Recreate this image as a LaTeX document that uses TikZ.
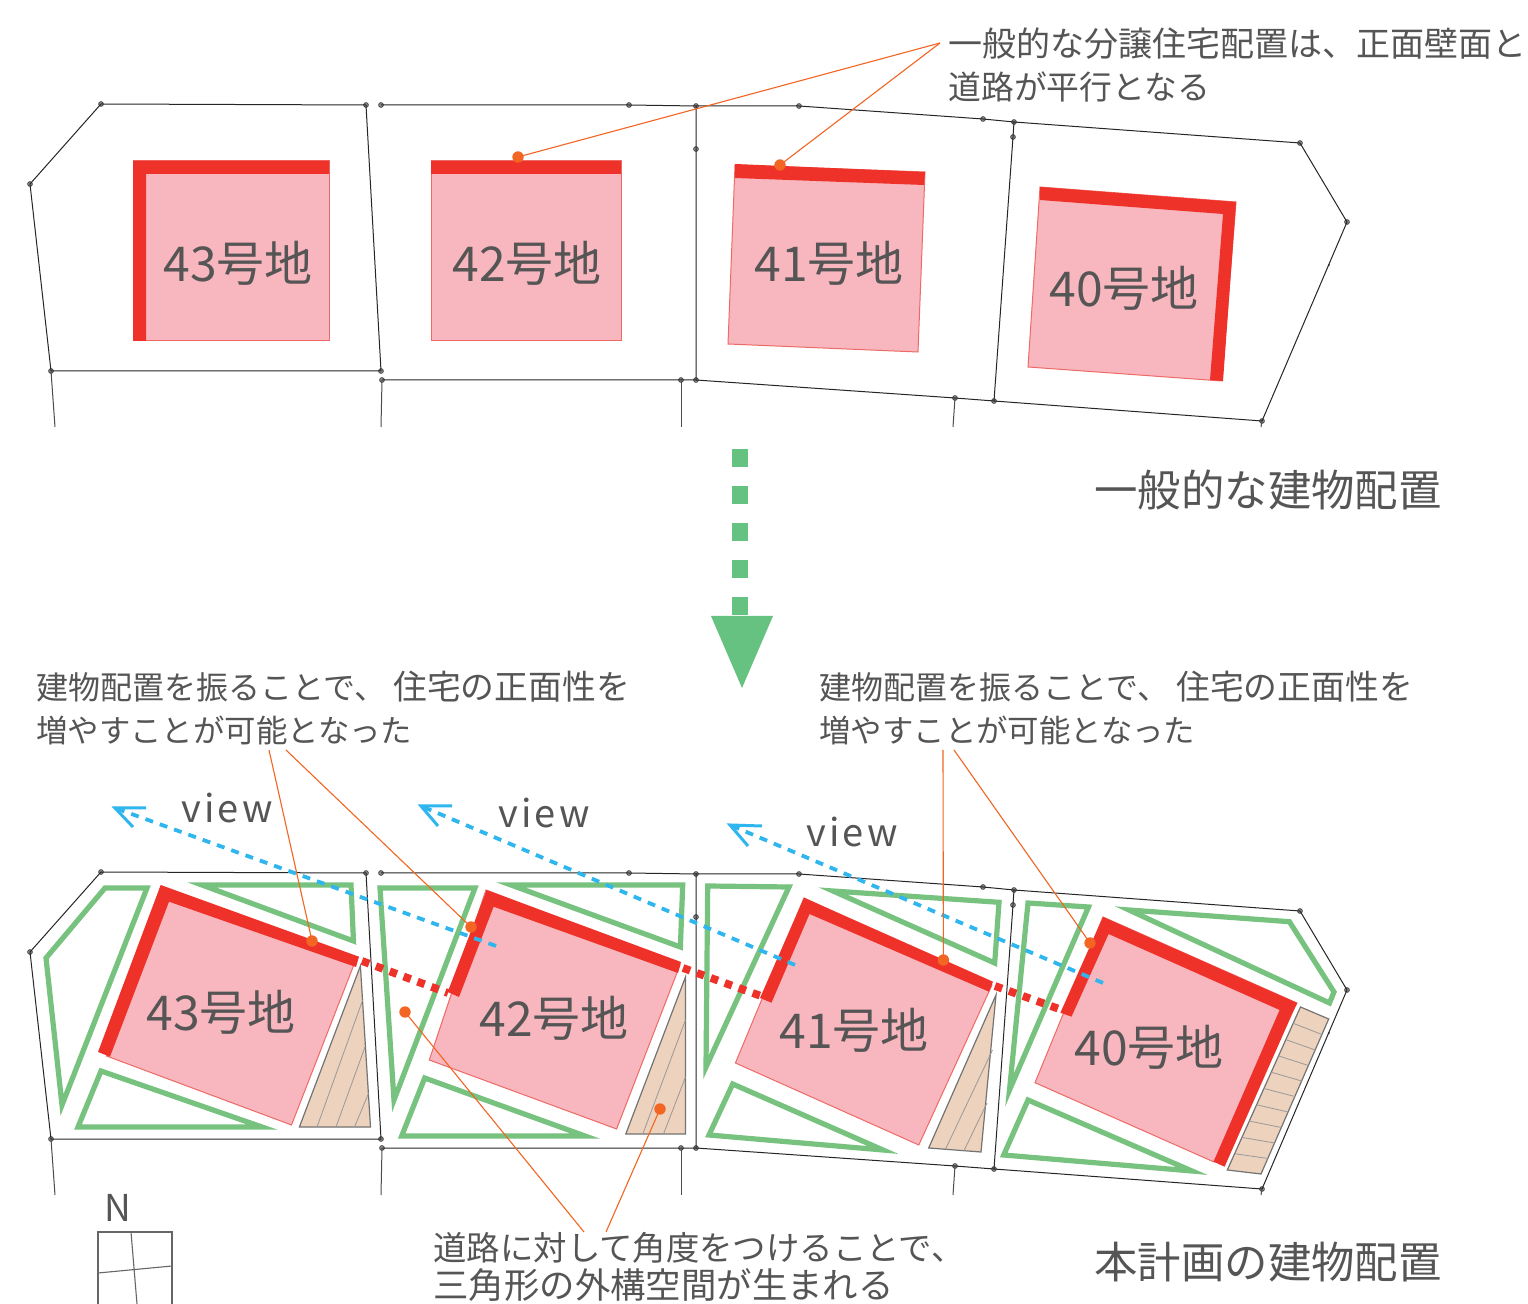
\documentclass[tikz,border=0pt]{standalone}
\usepackage{fontspec}
\usetikzlibrary{calc}
\setmainfont{Noto Sans CJK JP}
\newfontfamily\viewfont[LetterSpace=8]{Noto Sans CJK JP}
\definecolor{bldred}{HTML}{EE3229}
\definecolor{bldpink}{HTML}{F8B6BE}
\definecolor{bldedge}{HTML}{EE6A66}
\definecolor{hedge}{HTML}{77C27F}
\definecolor{wood}{HTML}{EDD2BD}
\definecolor{sky}{HTML}{2FB6EE}
\definecolor{lead}{HTML}{F26522}
\definecolor{arrowgreen}{HTML}{66C280}
\definecolor{txt}{HTML}{555555}
\newcommand{\fsz}[1]{\fontsize{#1}{#1}\selectfont}
\tikzset{
  vx/.style={circle,inner sep=0pt,minimum size=2.4pt,draw=black!75,line width=.35pt,fill=black!45},
  vxtiny/.style={circle,inner sep=0pt,minimum size=1.2pt,fill=black!60},
  bound/.style={line width=.5pt,draw=black!85},
  stub/.style={line width=.5pt,draw=black!70},
  pinkbox/.style={fill=bldpink,draw=bldedge,line width=.5pt},
  redband/.style={fill=bldred,draw=none},
  hedgeline/.style={draw=hedge,line width=2.6pt,miter limit=12,line join=miter},
  woodbox/.style={fill=wood,draw=black!55,line width=.6pt},
  hatch/.style={draw=black!40,line width=.4pt},
  reddash/.style={draw=bldred,line width=3.9pt,dash pattern=on 3.8pt off 3.6pt},
  viewline/.style={draw=sky,line width=1.9pt,dash pattern=on 4pt off 3.6pt},
  viewhead/.style={draw=sky,line width=1.5pt,line join=miter},
  leader/.style={draw=lead,line width=.55pt},
  dot/.style={circle,inner sep=0pt,minimum size=5.7pt,fill=lead},
  lotlabel/.style={text=txt,inner sep=0pt,font=\fsz{24}},
  title/.style={text=txt,inner sep=0pt,anchor=west,font=\fsz{21.7}},
  note/.style={text=txt,inner sep=0pt,anchor=west,font=\fsz{16.4}},
  viewlabel/.style={text=txt,inner sep=0pt,font=\viewfont\fsz{19}},
}
\newcommand{\lotlines}[1]{%
  \node[vx] (#1a1) at (30,184) {};
  \node[vx] (#1a2) at (101,104) {};
  \node[vx] (#1a3) at (366,105) {};
  \node[vx] (#1a4) at (381,371) {};
  \node[vx] (#1a5) at (51,371) {};
  \coordinate (#1a6) at (55,427);
  \node[vx] (#1b1) at (381,105) {};
  \node[vx] (#1b2) at (629,105) {};
  \node[vx] (#1b3) at (696,106) {};
  \node[vx] (#1b4) at (696,380) {};
  \node[vx] (#1b5) at (681,380) {};
  \node[vx] (#1b6) at (382,380) {};
  \node[vx] (#1b7) at (696,149) {};
  \coordinate (#1b8) at (381,427);
  \coordinate (#1b9) at (681,427);
  \node[vx] (#1c1) at (799,106) {};
  \node[vx] (#1c2) at (983,119) {};
  \node[vx] (#1c3) at (1014,122) {};
  \node[vx] (#1c4) at (1013,137) {};
  \node[vx] (#1c5) at (994,401) {};
  \node[vx] (#1c6) at (955,398) {};
  \coordinate (#1c7) at (953,427);
  \node[vx] (#1d1) at (1300,143) {};
  \node[vx] (#1d2) at (1347,222) {};
  \node[vx] (#1d3) at (1262,421) {};
  \node[vxtiny] (#1d5) at (1329,265) {};
  \coordinate (#1d4) at (1261,427);
  \draw[bound] (#1a1.center) -- (#1a2.center) -- (#1a3.center) -- (#1a4.center) -- (#1a5.center) -- cycle;
  \draw[stub] (#1a5.center) -- (#1a6);
  \draw[bound] (#1b1.center) -- (#1b2.center) -- (#1b3.center) -- (#1b4.center) -- (#1b5.center) -- (#1b6.center);
  \draw[stub] (#1b6.center) -- (#1b8);
  \draw[stub] (#1b5.center) -- (#1b9);
  \draw[bound] (#1b3.center) -- (#1c1.center) -- (#1c2.center) -- (#1c3.center) -- (#1c4.center) -- (#1c5.center) -- (#1c6.center) -- (#1b4.center);
  \draw[stub] (#1c6.center) -- (#1c7);
  \draw[bound] (#1c3.center) -- (#1d1.center) -- (#1d2.center) -- (#1d3.center) -- (#1c5.center);
  \draw[stub] (#1d3.center) -- (#1d4);
}
\begin{document}
\begin{tikzpicture}[x=0.5pt,y=-0.5pt]
\useasboundingbox (0,0) rectangle (1528,1304);
\fill[white] (0,0) rectangle (1528,1304);

% ---------- upper plan
\lotlines{u}
\draw[pinkbox] (133,161) rectangle (329,341);
\fill[redband] (133,161) -- (329,161) -- (329,174) -- (146,174) -- (146,341) -- (133,341) -- cycle;
\draw[pinkbox] (431,161) rectangle (621,341);
\fill[redband] (431,161) rectangle (621,174);
\draw[pinkbox] (735,165) -- (925,172) -- (918,352) -- (728,344) -- cycle;
\fill[redband] (735,164) -- (925,172) -- (924,185) -- (735,178) -- cycle;
\draw[pinkbox] (1040,187) -- (1236,202) -- (1222,381) -- (1028,367) -- cycle;
\fill[redband] (1040,187) -- (1236,202) -- (1223,381) -- (1210,380) -- (1223,214) -- (1040,200) -- cycle;
\node[lotlabel] (u43) at (238,263) {43号地};
\node[lotlabel] (u42) at (527,263) {42号地};
\node[lotlabel] (u41) at (829,263) {41号地};
\node[lotlabel] (u40) at (1124,288) {40号地};

\node[note,font=\fsz{17}] (ntop1) at (948,44) {一般的な分譲住宅配置は、正面壁面と};
\node[note] (ntop2) at (948,87) {道路が平行となる};
\coordinate (ltop) at (940,43);
\node[dot] (d1) at (518,157) {};
\node[dot] (d2) at (780,165) {};
\draw[leader] (ltop) -- (d1.center);
\draw[leader] (ltop) -- (d2.center);

% ---------- green arrow
\coordinate (ga) at (740,449);
\coordinate (gb) at (740,616);
\coordinate (gl) at (711,616);
\coordinate (gr) at (773,616);
\coordinate (gt) at (742,688);
\draw[arrowgreen,line width=8pt,dash pattern=on 9pt off 9.5pt] (ga) -- (gb);
\fill[arrowgreen] (gl) -- (gr) -- (gt) -- cycle;

\node[title] (t1) at (1094,490) {一般的な建物配置};
\node[title] (t2) at (1094,1262) {本計画の建物配置};

% ---------- lower plan
\begin{scope}[shift={(0,768)}]
\lotlines{l}
\end{scope}

% green planting
\draw[hedgeline] (105,888) -- (147,888) -- (62,1105) -- (46,958) -- cycle;
\draw[hedgeline] (202,885) -- (351,885) -- (353.5,941) -- cycle;
\draw[hedgeline] (101,1071) -- (78,1127) -- (262,1127) -- cycle;
\draw[hedgeline] (380,888) -- (475,888) -- (394,1100) -- cycle;
\draw[hedgeline] (511,885) -- (682.7,885) -- (680.4,947) -- cycle;
\draw[hedgeline] (424.7,1078) -- (401.7,1136) -- (585,1136) -- cycle;
\draw[hedgeline] (707.7,886) -- (789,887) -- (706,1067) -- cycle;
\draw[hedgeline] (833,891) -- (999,902.3) -- (994.7,963) -- cycle;
\draw[hedgeline] (732.7,1084) -- (709,1135) -- (883,1150) -- cycle;
\draw[hedgeline] (1028,903) -- (1088.5,907) -- (1009.5,1090) -- cycle;
\draw[hedgeline] (1129,910) -- (1289.4,921.7) -- (1334,992) -- (1329.5,1003) -- cycle;
\draw[hedgeline] (1028,1100) -- (1003.7,1155) -- (1192,1171) -- cycle;

% timber decks
\draw[woodbox] (360.4,966) -- (299.4,1127) -- (370.5,1127) -- cycle;
\draw[hatch] (317,1127) -- (362.7,1000);
\draw[hatch] (336,1127) -- (365,1047);
\draw[hatch] (354.5,1127) -- (368.7,1093);
\draw[woodbox] (685.5,977) -- (625.8,1134) -- (685.5,1134) -- cycle;
\draw[hatch] (642.8,1134) -- (685.5,1020);
\draw[hatch] (663.5,1134) -- (685.5,1077);
\draw[woodbox] (996,995) -- (928.7,1148) -- (981,1152) -- cycle;
\draw[hatch] (945.6,1149) -- (992.5,1050);
\draw[hatch] (964,1150.7) -- (987,1103);
\draw[woodbox] (1300.5,1007) -- (1328.7,1019) -- (1261,1174) -- (1227.3,1170) -- cycle;
\foreach \t in {0.1,0.2,...,0.95}{
  \draw[hatch] ($(1300.5,1007)!\t!(1227.3,1170)$) -- ($(1328.7,1019)!\t!(1261,1174)$);
}

% buildings
\draw[pinkbox] (161,886) -- (355,962) -- (291.5,1125) -- (106.5,1056) -- cycle;
\fill[redband] (160.7,885) -- (359,956.7) -- (356,967) -- (350,965) -- (169,901.7) -- (110,1056.7) -- (98,1052) -- cycle;
\draw[pinkbox] (486,890) -- (680,965) -- (616.6,1129) -- (429.3,1060) -- cycle;
\fill[redband] (486.7,890) -- (681,962) -- (678,973) -- (493.6,906.7) -- (459,997) -- (447.7,992) -- cycle;
\draw[pinkbox] (804,898) -- (992,985) -- (918.8,1145) -- (735.4,1063) -- cycle;
\fill[redband] (804,897.7) -- (993,981.7) -- (989,991.7) -- (809.5,914) -- (771.5,1002.7) -- (760,998) -- cycle;
\draw[pinkbox] (1103,917) -- (1297,1003) -- (1214,1162) -- (1035,1082.7) -- cycle;
\fill[redband] (1103,917) -- (1297,1003) -- (1224.6,1166.7) -- (1213.5,1161.7) -- (1279.6,1010) -- (1108.6,934) -- (1071.5,1016.7) -- (1060.4,1012.7) -- cycle;

\coordinate (rd1a) at (362,961);
\coordinate (rd1b) at (448,993);
\coordinate (rd2a) at (683,968);
\coordinate (rd2b) at (761,996);
\coordinate (rd3a) at (995,986);
\coordinate (rd3b) at (1062,1010);
\draw[reddash] (rd1a) -- (rd1b);
\draw[reddash] (rd2a) -- (rd2b);
\draw[reddash] (rd3a) -- (rd3b);

\node[lotlabel] (l43) at (221,1012) {43号地};
\node[lotlabel] (l42) at (554,1018) {42号地};
\node[lotlabel] (l41) at (854,1030) {41号地};
\node[lotlabel] (l40) at (1149,1047) {40号地};

% view arrows
\coordinate (v1a) at (496,946);
\coordinate (v1b) at (115,808);
\coordinate (v1c) at (146,808);
\coordinate (v1d) at (133,827);
\coordinate (v2a) at (795,965);
\coordinate (v2b) at (421,806);
\coordinate (v2c) at (452,806);
\coordinate (v2d) at (438,826);
\coordinate (v3a) at (1103,983);
\coordinate (v3b) at (730,825);
\coordinate (v3c) at (762,826);
\coordinate (v3d) at (748,846);
\draw[viewline] (v1a) -- (v1b);
\draw[viewhead] (v1c) -- (v1b) -- (v1d);
\draw[viewline] (v2a) -- (v2b);
\draw[viewhead] (v2c) -- (v2b) -- (v2d);
\draw[viewline] (v3a) -- (v3b);
\draw[viewhead] (v3c) -- (v3b) -- (v3d);
\node[viewlabel] (vl1) at (227,808) {view};
\node[viewlabel] (vl2) at (544,813) {view};
\node[viewlabel] (vl3) at (852,832) {view};

% notes with leaders
\node[note] (n1a) at (36,687) {\fsz{16}建物配置を振ることで、 \fsz{16.9}住宅の正面性を};
\node[note,font=\fsz{15.7}] (n1b) at (36,730) {増やすことが可能となった};
\node[note] (n2a) at (819,687) {\fsz{16}建物配置を振ることで、 \fsz{16.9}住宅の正面性を};
\node[note,font=\fsz{15.7}] (n2b) at (819,730) {増やすことが可能となった};
\node[note,font=\fsz{16.7}] (n3a) at (433,1248) {道路に対して角度をつけることで、};
\node[note,font=\fsz{17.7}] (n3b) at (433,1285) {三角形の外構空間が生まれる};

\coordinate (la) at (269,750);
\coordinate (lb) at (286,750);
\coordinate (lc) at (943,750);
\coordinate (ld) at (954,750);
\coordinate (le) at (584,1232);
\coordinate (lf) at (606,1232);
\node[dot] (d3) at (312,941) {};
\node[dot] (d4) at (471,927) {};
\node[dot] (d5) at (943.4,960) {};
\node[dot] (d6) at (1090,943) {};
\node[dot] (d7) at (405,1012) {};
\node[dot] (d8) at (660,1109) {};
\draw[leader] (la) -- (d3.center);
\draw[leader] (lb) -- (d4.center);
\draw[leader] (lc) -- (d5.center);
\draw[leader] (ld) -- (d6.center);
\draw[leader] (le) -- (d7.center);
\draw[leader] (lf) -- (d8.center);

% north mark
\node[text=txt,inner sep=0pt,font=\fsz{18.5}] (north) at (118,1208) {N};
\coordinate (na) at (98,1304);
\coordinate (nb) at (98,1232);
\coordinate (nc) at (172,1232);
\coordinate (nd) at (172,1304);
\draw[black!60,line width=.8pt] (na) -- (nb) -- (nc) -- (nd);
\coordinate (ne) at (131,1232);
\coordinate (nf) at (137,1304);
\coordinate (ng) at (98,1273);
\coordinate (nh) at (172,1266);
\draw[black!60,line width=.55pt] (ne) -- (nf);
\draw[black!60,line width=.55pt] (ng) -- (nh);
\end{tikzpicture}
\end{document}
